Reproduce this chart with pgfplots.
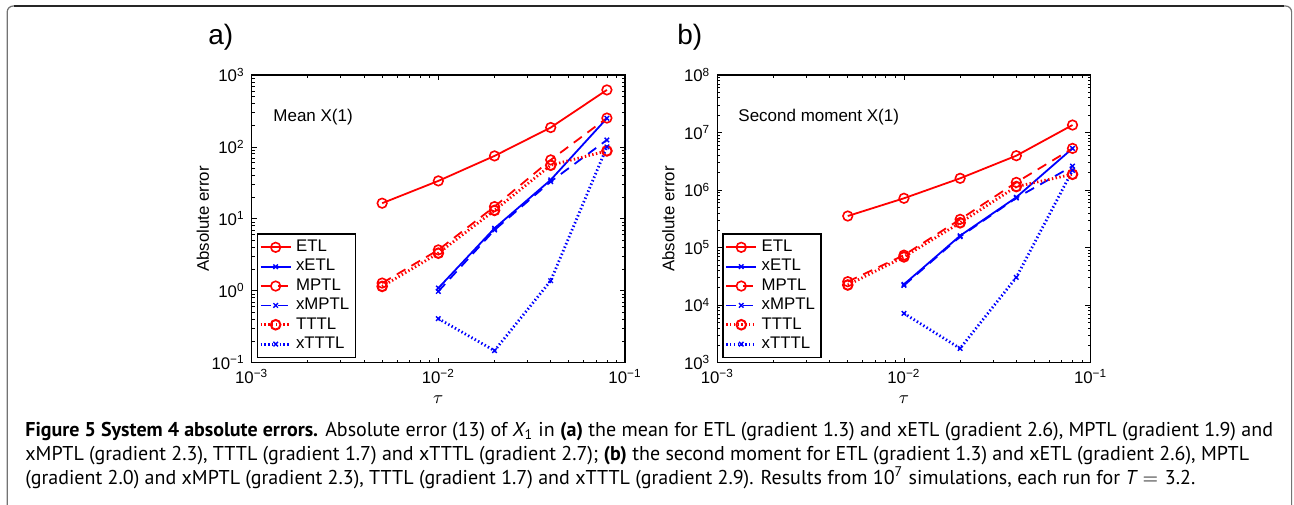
\documentclass[border=0pt]{standalone}
\usepackage{fontspec}
\setmainfont{Liberation Sans}
\newfontfamily\capfont{PT Sans}
\usepackage{pgfplots}
\pgfplotsset{compat=1.18}

% tick labels as 10^n in the text font
\newcommand{\tp}[1]{10\textsuperscript{#1}}

% common axis settings for both panels
\pgfplotsset{
  scale only axis, width=186.65pt, height=143.85pt,
  xmin=1e-3, xmax=1e-1,
  xtick={1e-3,1e-2,1e-1}, xticklabels={\tp{−3},\tp{−2},\tp{−1}},
  tick align=inside, major tick length=2.6pt, minor tick length=1.5pt,
  axis line style={line width=0.6pt},
  every tick/.style={black, line width=0.4pt},
  ticklabel style={font=\fontsize{8.4}{10}\selectfont},
  every axis label/.append style={font=\fontsize{8.4}{10}\selectfont},
  xlabel style={at={(axis description cs:0.5,-0.129)}, anchor=center, font=\fontsize{9.5}{10}\selectfont},
  ylabel style={at={(axis description cs:-0.131,0.5)}, anchor=center},
  legend style={at={(0.013,0.016)}, anchor=south west, draw=black, line width=0.7pt,
    font=\fontsize{8.4}{9.5}\selectfont, inner sep=1pt, row sep=-1.6pt},
  legend cell align=left,
  legend image code/.code={\draw[mark repeat=2,mark phase=2,#1] plot coordinates {(0pt,0pt)(7.5pt,0pt)(15pt,0pt)};},
}

\begin{document}
\begin{tikzpicture}
\useasboundingbox (0,0) rectangle (647pt,252pt);
\clip (0,0) rectangle (647pt,252pt);

% frame
\draw[black!55, line width=0.6pt, rounded corners=3pt] (3.6pt,-10pt) -- (3.6pt,249pt) -- (645.8pt,249pt) -- (645.8pt,-10pt);
\draw[black!85, line width=0.6pt] (7pt,249pt) -- (642pt,249pt);

% a) mean
\begin{loglogaxis}[at={(125.85pt,70.65pt)}, anchor=south west,
  ymin=1e-1, ymax=1e3,
  ytick={1e-1,1,10,100,1000},
  yticklabels={\tp{−1},\tp{0},\tp{1},\tp{2},\tp{3}},
  xlabel={$\tau$}, ylabel={Absolute error},
]
\addplot[red, line width=0.9pt, mark=o, mark size=2.4pt, mark options={solid, line width=0.8pt}]
  coordinates {(0.005,16.5)(0.01,33.7)(0.02,75)(0.04,186)(0.08,620)};
\addplot[blue, line width=0.9pt, mark=x, mark size=1.6pt, mark options={solid, line width=0.7pt}]
  coordinates {(0.01,1.09)(0.02,7.4)(0.04,34.8)(0.08,250)};
\addplot[red, line width=0.9pt, dash pattern=on 5pt off 3.5pt, mark=o, mark size=2.4pt, mark options={solid, line width=0.8pt}]
  coordinates {(0.005,1.28)(0.01,3.7)(0.02,14.8)(0.04,66)(0.08,252)};
\addplot[blue, line width=0.9pt, dash pattern=on 5pt off 3.5pt, mark=x, mark size=1.6pt, mark options={solid, line width=0.7pt}]
  coordinates {(0.01,0.98)(0.02,7.0)(0.04,33)(0.08,125)};
\addplot[red, line width=1.4pt, dash pattern=on 0.7pt off 1.2pt, mark=o, mark size=2.4pt, mark options={solid, line width=1pt}]
  coordinates {(0.005,1.15)(0.01,3.33)(0.02,13.1)(0.04,55.6)(0.08,88)};
\addplot[blue, line width=1.4pt, dash pattern=on 0.7pt off 1.2pt, mark=x, mark size=1.6pt, mark options={solid, line width=0.7pt}]
  coordinates {(0.01,0.41)(0.02,0.147)(0.04,1.38)(0.08,100)};
\legend{ETL,xETL,MPTL,xMPTL,TTTL,xTTTL}
\end{loglogaxis}

% b) second moment
\begin{loglogaxis}[at={(358.65pt,70.65pt)}, anchor=south west,
  ymin=1e3, ymax=1e8,
  ytick={1e3,1e4,1e5,1e6,1e7,1e8},
  yticklabels={\tp{3},\tp{4},\tp{5},\tp{6},\tp{7},\tp{8}},
  xlabel={$\tau$}, ylabel={Absolute error},
]
\addplot[red, line width=0.9pt, mark=o, mark size=2.4pt, mark options={solid, line width=0.8pt}]
  coordinates {(0.005,3.54e5)(0.01,7.2e5)(0.02,1.6e6)(0.04,3.96e6)(0.08,1.35e7)};
\addplot[blue, line width=0.9pt, mark=x, mark size=1.6pt, mark options={solid, line width=0.7pt}]
  coordinates {(0.01,2.3e4)(0.02,1.61e5)(0.04,7.5e5)(0.08,5.3e6)};
\addplot[red, line width=0.9pt, dash pattern=on 5pt off 3.5pt, mark=o, mark size=2.4pt, mark options={solid, line width=0.8pt}]
  coordinates {(0.005,2.56e4)(0.01,7.4e4)(0.02,3.1e5)(0.04,1.36e6)(0.08,5.3e6)};
\addplot[blue, line width=0.9pt, dash pattern=on 5pt off 3.5pt, mark=x, mark size=1.6pt, mark options={solid, line width=0.7pt}]
  coordinates {(0.01,2.2e4)(0.02,1.55e5)(0.04,7.3e5)(0.08,2.6e6)};
\addplot[red, line width=1.4pt, dash pattern=on 0.7pt off 1.2pt, mark=o, mark size=2.4pt, mark options={solid, line width=1pt}]
  coordinates {(0.005,2.24e4)(0.01,6.9e4)(0.02,2.7e5)(0.04,1.15e6)(0.08,1.88e6)};
\addplot[blue, line width=1.4pt, dash pattern=on 0.7pt off 1.2pt, mark=x, mark size=1.6pt, mark options={solid, line width=0.7pt}]
  coordinates {(0.01,7.2e3)(0.02,1.77e3)(0.04,3.04e4)(0.08,2.2e6)};
\legend{ETL,xETL,MPTL,xMPTL,TTTL,xTTTL}
\end{loglogaxis}

% panel letters and in-plot titles
\node[anchor=west, font=\fontsize{14}{16}\selectfont, inner sep=0pt] at (104pt,233.5pt) {a)};
\node[anchor=west, font=\fontsize{14}{16}\selectfont, inner sep=0pt] at (338.5pt,233.5pt) {b)};
\node[anchor=west, font=\fontsize{8.5}{10}\selectfont, inner sep=0pt] at (136.5pt,193.5pt) {Mean X(1)};
\node[anchor=west, font=\fontsize{8.5}{10}\selectfont, inner sep=0pt] at (369pt,193.5pt) {Second moment X(1)};

% caption
\begin{scope}[every node/.style={anchor=base west, inner sep=0pt, font=\capfont\fontsize{10}{12}\selectfont}]
\node at (12.5pt,34pt) {\textbf{Figure 5 System 4 absolute errors.} Absolute error (13) of {\itshape X}\textsubscript{1} in \textbf{(a)} the mean for ETL (gradient 1.3) and xETL (gradient 2.6), MPTL (gradient 1.9) and};
\node at (12.5pt,22pt) {xMPTL (gradient 2.3), TTTL (gradient 1.7) and xTTTL (gradient 2.7); \textbf{(b)} the second moment for ETL (gradient 1.3) and xETL (gradient 2.6), MPTL};
\node at (12.5pt,10pt) {(gradient 2.0) and xMPTL (gradient 2.3), TTTL (gradient 1.7) and xTTTL (gradient 2.9). Results from 10\textsuperscript{7} simulations, each run for {\itshape T}\,\,$=$\,\,3.2.};
\end{scope}
\end{tikzpicture}
\end{document}
